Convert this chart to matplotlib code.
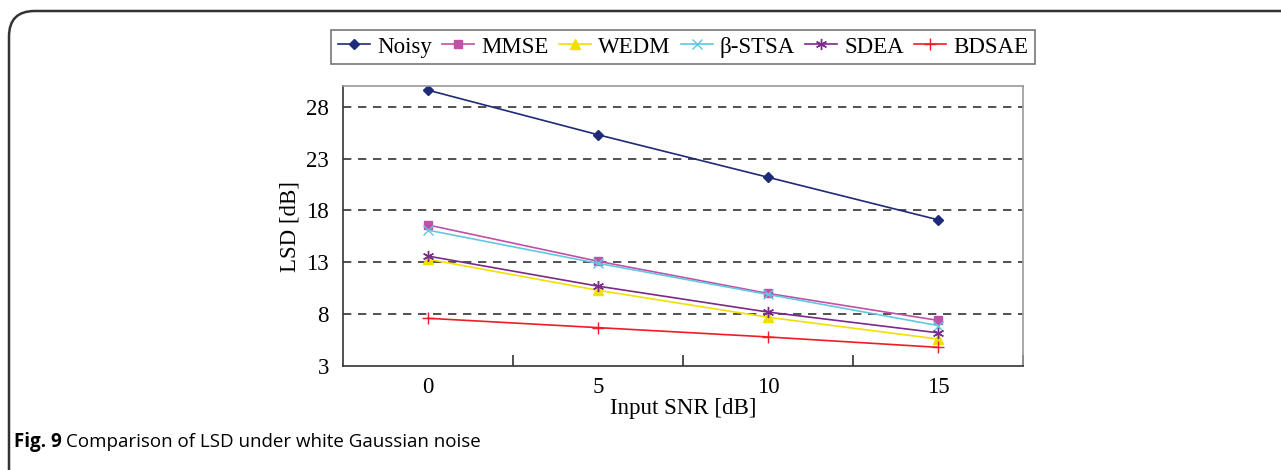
import matplotlib.pyplot as plt
from matplotlib.patches import FancyBboxPatch

# Datos
snr = ['0', '5', '10', '15']
noisy = [29.6, 25.3, 21.2, 17.1]
mmse = [16.6, 13.1, 10.0, 7.4]
wedm = [13.3, 10.3, 7.7, 5.6]
bstsa = [16.1, 12.9, 9.9, 6.9]
sdea = [13.6, 10.7, 8.2, 6.2]
bdsae = [7.6, 6.7, 5.8, 4.8]

plt.rcParams['font.family'] = ['Liberation Serif', 'DejaVu Serif']

fig = plt.figure(figsize=(12.81, 4.70), dpi=100)

# Marco redondeado de la figura (se sale por la derecha y abajo)
frame = FancyBboxPatch((9 / 1281, -0.2), 1.5, 1.2 - 11 / 470,
                       boxstyle='round,pad=0,rounding_size=0.02',
                       transform=fig.transFigure, fill=False,
                       edgecolor='#333333', linewidth=1.8,
                       mutation_aspect=1281 / 470)
fig.patches.append(frame)

ax = fig.add_axes([343 / 1281, 1 - 366 / 470, 680 / 1281, 280 / 470])
x = range(len(snr))

ax.plot(x, noisy, color='#1f2a78', marker='D', markersize=5, lw=1.2, label='Noisy')
ax.plot(x, mmse, color='#c050a8', marker='s', markersize=6, lw=1.2, label='MMSE')
ax.plot(x, wedm, color='#f0e000', marker='^', markersize=7, lw=1.2, label='WEDM')
ax.plot(x, bstsa, color='#60c8e0', marker='x', markersize=7, lw=1.2, label='β-STSA')
ax.plot(x, sdea, color='#7a2a88', marker=(6, 2, 0), markersize=8, lw=1.2, label='SDEA')
ax.plot(x, bdsae, color='#ee1c24', marker='+', markersize=9, lw=1.2, label='BDSAE')

ax.set_xlim(-0.5, 3.5)
ax.set_ylim(3, 30)
ax.set_yticks([3, 8, 13, 18, 23, 28])
ax.set_xticks(list(x))
ax.set_xticklabels(snr)
ax.set_xticks([0.5, 1.5, 2.5, 3.5], minor=True)
ax.tick_params(axis='x', which='major', length=0, pad=8, labelsize=16.5)
ax.tick_params(axis='x', which='minor', direction='in', length=8, width=1.2, color='#333333')
ax.tick_params(axis='y', length=0, pad=10, labelsize=16.5)

for yv in [8, 13, 18, 23, 28]:
    ax.axhline(yv, color='#333333', lw=1.2, ls=(0, (5, 4)), zorder=0)

ax.spines['left'].set_color('#333333')
ax.spines['bottom'].set_color('#333333')
ax.spines['top'].set_color('#999999')
ax.spines['right'].set_color('#999999')
for s in ax.spines.values():
    s.set_linewidth(1.2)

ax.set_xlabel('Input SNR [dB]', fontsize=16.5, labelpad=0)
ax.set_ylabel('LSD [dB]', fontsize=16.5, labelpad=4)

leg = fig.legend(loc='center', bbox_to_anchor=(683 / 1281, 1 - 47 / 470), ncol=6,
                 fontsize=16.5, frameon=True, fancybox=False, edgecolor='#555555',
                 handlelength=1.4, handletextpad=0.3, columnspacing=0.45,
                 borderpad=0.3)
leg.get_frame().set_linewidth(1.2)

fig.text(14 / 1281, 1 - 442 / 470, 'Fig. 9', fontsize=13.5, fontweight='bold',
         family='Open Sans', va='center')
fig.text(66 / 1281, 1 - 442 / 470, 'Comparison of LSD under white Gaussian noise',
         fontsize=13.5, family='Open Sans', va='center')

fig.savefig('out.png', dpi=100)
